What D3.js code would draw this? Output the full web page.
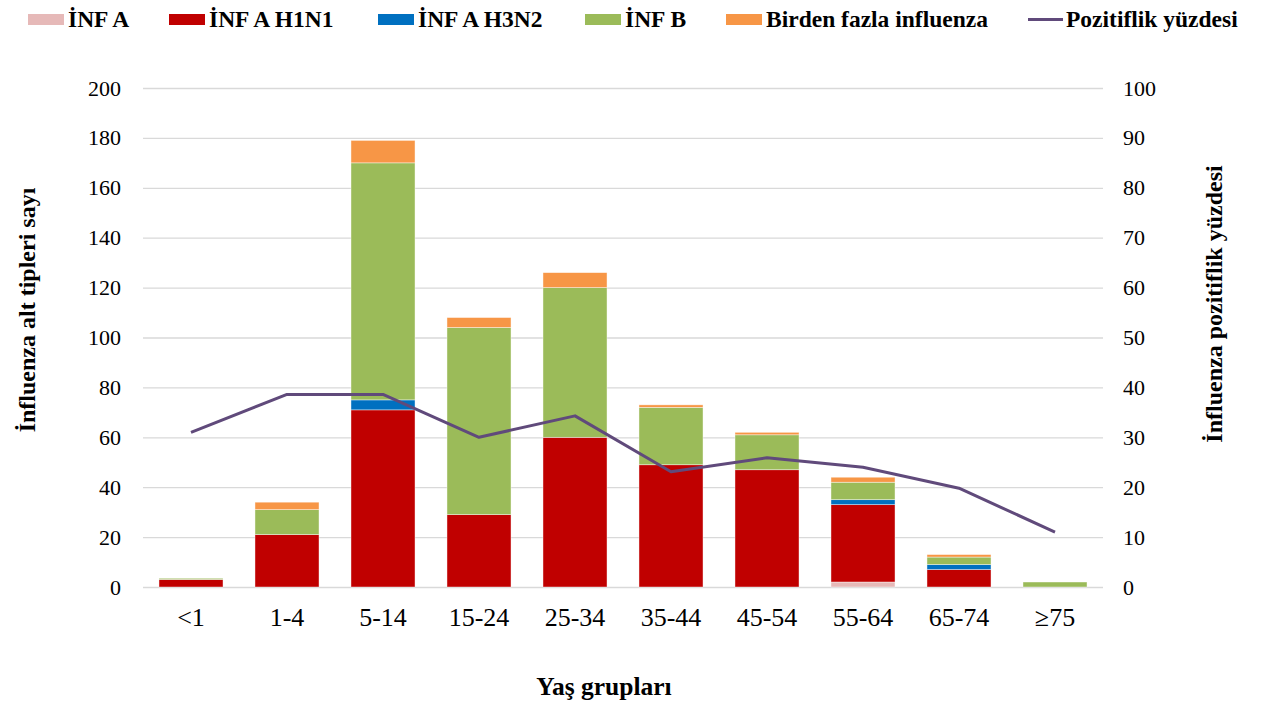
<!DOCTYPE html>
<html><head><meta charset="utf-8">
<script src="https://cdn.jsdelivr.net/npm/d3@7"></script>
<style>body{margin:0;background:#fff}svg{display:block}text{font-family:"Liberation Serif","Times New Roman",serif;fill:#000}</style>
</head><body><svg id="c" width="1268" height="711"></svg>
<script>
const categories = ["<1","1-4","5-14","15-24","25-34","35-44","45-54","55-64","65-74","≥75"];
const infA     = [0, 0, 0, 0, 0, 0, 0, 2, 0, 0];
const infAH1N1 = [3, 21, 71, 29, 60, 49, 47, 31, 7, 0];
const infAH3N2 = [0, 0, 4, 0, 0, 0, 0, 2, 2, 0];
const infB     = [0.5, 10, 95, 75, 60, 23, 14, 7, 3, 2];
const birden   = [0, 3, 9, 4, 6, 1, 1, 2, 1, 0];
const pozitiflik = [31, 38.6, 38.6, 30, 34.3, 23.1, 25.9, 24, 19.8, 11];
const leftTicks = [0,20,40,60,80,100,120,140,160,180,200];
const rightTicks = [0,10,20,30,40,50,60,70,80,90,100];
const seriesNames = ["İNF A","İNF A H1N1","İNF A H3N2","İNF B","Birden fazla influenza"];
const seriesColors = ["#E6B9B8","#C00000","#0070C0","#9BBB59","#F79646"];
const lineName = "Pozitiflik yüzdesi";
const lineColor = "#604A7B";

const svg = d3.select("#c");
const L = 143, R = 1103, T = 88, B = 587;
const x = d3.scaleBand().domain(categories).range([L, R]).paddingInner(0.333).paddingOuter(0.1665);
const y = d3.scaleLinear().domain([0, 200]).range([B, T]);
const y2 = d3.scaleLinear().domain([0, 100]).range([B, T]);

// gridlines
const grid = svg.append("g").attr("transform", `translate(${L},0)`)
  .call(d3.axisLeft(y).tickValues(leftTicks).tickSize(-(R - L)).tickFormat(""));
grid.select(".domain").remove();
grid.selectAll("line").attr("stroke", "#d9d9d9").attr("stroke-width", 1.3);

// left axis labels
const ax = svg.append("g").attr("transform", `translate(${L},0)`)
  .call(d3.axisLeft(y).tickValues(leftTicks).tickSize(0).tickPadding(22));
ax.select(".domain").remove();
ax.selectAll("text").attr("font-size", 22).attr("font-family", "Liberation Serif").attr("fill", "#222");

const ax2 = svg.append("g").attr("transform", `translate(${R},0)`)
  .call(d3.axisRight(y2).tickValues(rightTicks).tickSize(0).tickPadding(20));
ax2.select(".domain").remove();
ax2.selectAll("text").attr("font-size", 22).attr("font-family", "Liberation Serif").attr("fill", "#222");

const axx = svg.append("g").attr("transform", `translate(0,${B})`)
  .call(d3.axisBottom(x).tickSize(0).tickPadding(21));
axx.select(".domain").remove();
axx.selectAll("text").attr("font-size", 26).attr("font-family", "Liberation Serif").attr("fill", "#222");

// stacked bars
const rows = categories.map((c, i) => ({cat: c, s0: infA[i], s1: infAH1N1[i], s2: infAH3N2[i], s3: infB[i], s4: birden[i]}));
const stack = d3.stack().keys(["s0","s1","s2","s3","s4"])(rows);
svg.append("g").selectAll("g").data(stack).join("g")
  .attr("fill", (d, i) => seriesColors[i])
  .selectAll("rect").data(d => d.filter(p => p[1] > p[0])).join("rect")
  .attr("x", d => x(d.data.cat))
  .attr("width", x.bandwidth())
  .attr("y", d => y(d[1]))
  .attr("height", d => y(d[0]) - y(d[1]))
  .attr("stroke", "#fff").attr("stroke-opacity", 0.6).attr("stroke-width", 0.7);

// line
const line = d3.line().x((d, i) => x(categories[i]) + x.bandwidth() / 2).y(d => y2(d));
svg.append("path").datum(pozitiflik).attr("d", line)
  .attr("fill", "none").attr("stroke", lineColor).attr("stroke-width", 3).attr("stroke-linejoin", "round");

// axis titles
svg.append("text").attr("transform", "translate(35,310) rotate(-90)").attr("text-anchor", "middle")
  .attr("font-size", 24).attr("font-weight", "bold").text("İnfluenza alt tipleri sayı");
svg.append("text").attr("transform", "translate(1222,304) rotate(-90)").attr("text-anchor", "middle")
  .attr("font-size", 24).attr("font-weight", "bold").text("İnfluenza pozitiflik yüzdesi");
svg.append("text").attr("x", 604).attr("y", 695).attr("text-anchor", "middle")
  .attr("font-size", 25.5).attr("font-weight", "bold").text("Yaş grupları");

// legend
const legX = [28, 169, 378, 585, 726];
const lg = svg.append("g");
seriesNames.forEach((n, i) => {
  lg.append("rect").attr("x", legX[i]).attr("y", 14).attr("width", 36).attr("height", 11).attr("fill", seriesColors[i]);
  lg.append("text").attr("x", legX[i] + 40).attr("y", 27).attr("font-size", 23.5).attr("font-weight", "bold").text(n);
});
lg.append("line").attr("x1", 1028).attr("x2", 1063).attr("y1", 19.5).attr("y2", 19.5).attr("stroke", lineColor).attr("stroke-width", 3);
lg.append("text").attr("x", 1066).attr("y", 27).attr("font-size", 23.5).attr("font-weight", "bold").text(lineName);
</script></body></html>
